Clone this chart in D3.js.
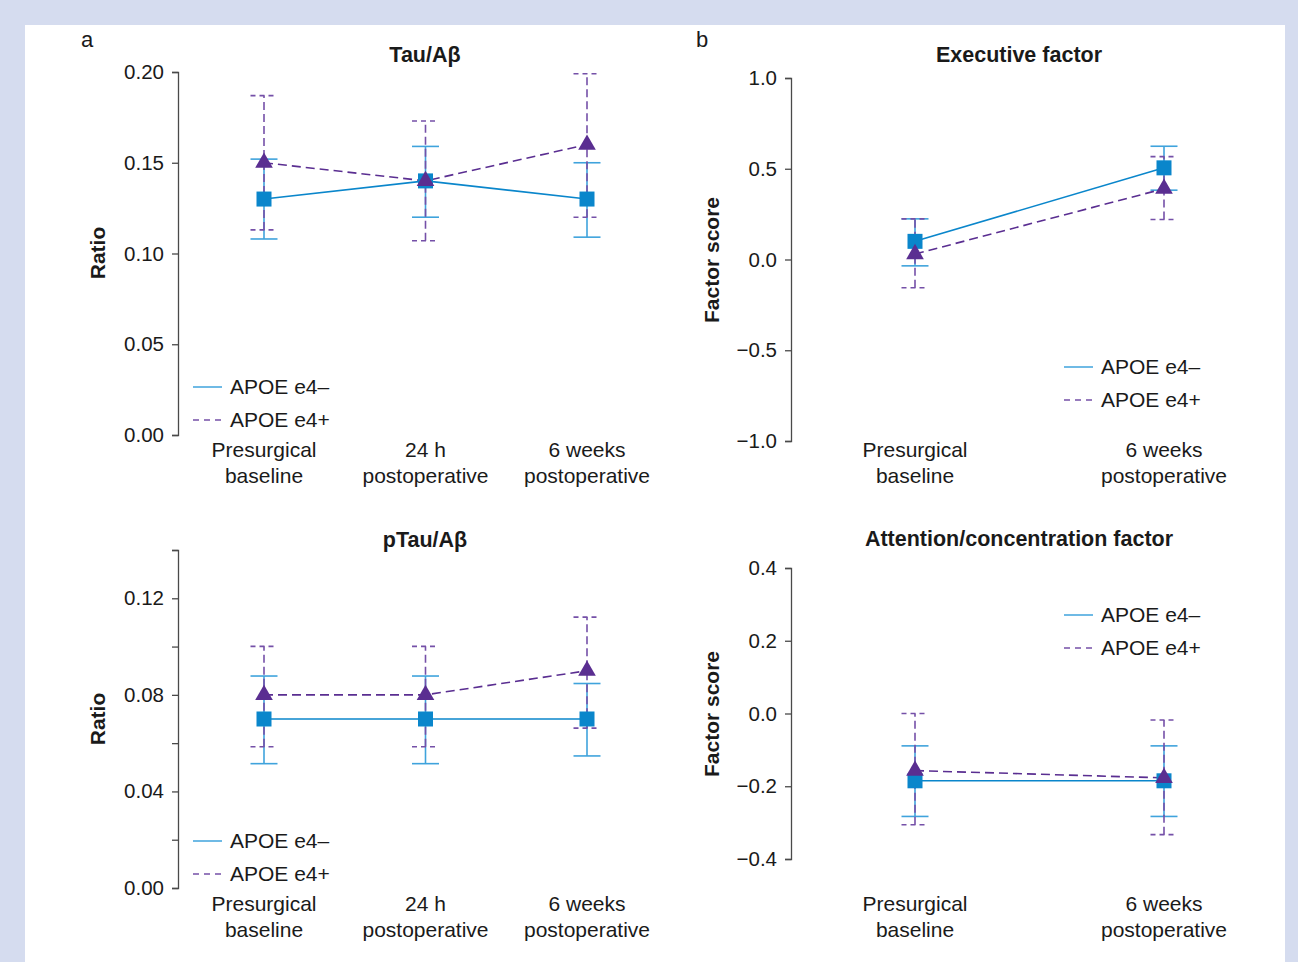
<!DOCTYPE html>
<html>
<head>
<meta charset="utf-8">
<script src="https://cdn.jsdelivr.net/npm/d3@7"></script>
<style>
  body { margin: 0; background: #fff; }
  svg text { font-family: Arial, "Liberation Sans", sans-serif; fill: #1a1a1a; }
</style>
</head>
<body>
<svg id="chart" width="1298" height="962"></svg>
<script>
// Categories (each label is drawn on two lines)
const timesA = [['Presurgical', 'baseline'], ['24 h', 'postoperative'], ['6 weeks', 'postoperative']];
const timesB = [['Presurgical', 'baseline'], ['6 weeks', 'postoperative']];
const seriesNames = ['APOE e4\u2013', 'APOE e4+'];

// Tau/Abeta ratio
const tauNeg = [0.13, 0.14, 0.13];
const tauNegLo = [0.108, 0.120, 0.109];
const tauNegHi = [0.152, 0.159, 0.150];
const tauPos = [0.15, 0.14, 0.16];
const tauPosLo = [0.113, 0.107, 0.120];
const tauPosHi = [0.187, 0.173, 0.199];

// pTau/Abeta ratio
const ptauNeg = [0.07, 0.07, 0.07];
const ptauNegLo = [0.0515, 0.0515, 0.0547];
const ptauNegHi = [0.0878, 0.0878, 0.0847];
const ptauPos = [0.08, 0.08, 0.09];
const ptauPosLo = [0.0585, 0.0585, 0.0662];
const ptauPosHi = [0.1001, 0.1001, 0.1122];

// Executive factor score
const execNeg = [0.10, 0.505];
const execNegLo = [-0.035, 0.382];
const execNegHi = [0.224, 0.624];
const execPos = [0.03, 0.39];
const execPosLo = [-0.156, 0.22];
const execPosHi = [0.224, 0.567];

// Attention/concentration factor score
const attNeg = [-0.185, -0.185];
const attNegLo = [-0.283, -0.283];
const attNegHi = [-0.089, -0.089];
const attPos = [-0.157, -0.177];
const attPosLo = [-0.306, -0.333];
const attPosHi = [0.0, -0.018];

// Axis ticks
const tauTicks = [0, 0.05, 0.10, 0.15, 0.20];
const ptauTicks = [0, 0.02, 0.04, 0.06, 0.08, 0.10, 0.12, 0.14];
const execTicks = [-1, -0.5, 0, 0.5, 1];
const attTicks = [-0.4, -0.2, 0, 0.2, 0.4];

const BLUE = '#0a86cb';
const BLUE_BAR = '#3fa3dc';
const PURPLE = '#5a2e91';
const PURPLE_BAR = '#7550a8';

const svg = d3.select('#chart');

// Framed background
svg.append('rect').attr('width', 1298).attr('height', 962).attr('fill', '#d5dcef');
svg.append('rect').attr('x', 25).attr('y', 25).attr('width', 1260).attr('height', 937).attr('fill', '#fff');

// Panel letters
svg.append('text').attr('x', 81).attr('y', 47).style('font-size', '22px').text('a');
svg.append('text').attr('x', 696).attr('y', 47).style('font-size', '22px').text('b');

const minus = s => s.replace('-', '\u2212');

function drawPanel(p) {
  const g = svg.append('g');

  const y = d3.scaleLinear().domain(p.domain).range([p.yBot, p.yTop]);
  const x = d3.scalePoint().domain(d3.range(p.cats.length)).range(p.xRange);

  // Y axis
  const yAxis = d3.axisLeft(y)
    .tickValues(p.ticks)
    .tickSizeInner(6)
    .tickSizeOuter(6)
    .tickPadding(8)
    .tickFormat(p.format);

  const ax = g.append('g')
    .attr('transform', `translate(${p.axisX},0)`)
    .call(yAxis);
  ax.selectAll('path, line').attr('stroke', '#4a4a4a').attr('stroke-width', 1.3);
  ax.selectAll('text')
    .style('font-size', '20.5px')
    .style('font-family', 'Arial, "Liberation Sans", sans-serif')
    .attr('fill', '#1a1a1a');

  // Title and axis label
  g.append('text')
    .attr('x', p.titleX).attr('y', p.titleY)
    .attr('text-anchor', 'middle')
    .style('font-size', '21.5px').style('font-weight', 'bold')
    .text(p.title);

  g.append('text')
    .attr('transform', `translate(${p.labelX},${p.labelY})rotate(-90)`)
    .attr('text-anchor', 'middle')
    .style('font-size', '21px').style('font-weight', 'bold')
    .text(p.yLabel);

  // Category labels
  p.cats.forEach((lines, i) => {
    lines.forEach((t, j) => {
      g.append('text')
        .attr('x', x(i)).attr('y', p.catY + j * 25.5)
        .attr('text-anchor', 'middle')
        .style('font-size', '21px')
        .text(t);
    });
  });

  const series = [
    { mean: p.neg, lo: p.negLo, hi: p.negHi, color: BLUE, bar: BLUE_BAR, dash: null, capDash: null },
    { mean: p.pos, lo: p.posLo, hi: p.posHi, color: PURPLE, bar: PURPLE_BAR, dash: '9,5', capDash: '5,4' }
  ];

  // Error bars
  series.forEach(s => {
    const eb = g.append('g');
    s.mean.forEach((m, i) => {
      eb.append('line')
        .attr('x1', x(i)).attr('x2', x(i))
        .attr('y1', y(s.lo[i])).attr('y2', y(s.hi[i]))
        .attr('stroke', s.bar).attr('stroke-width', 1.6)
        .attr('stroke-dasharray', s.dash ? '8,4' : null);
      [s.lo[i], s.hi[i]].forEach(v => {
        eb.append('line')
          .attr('x1', x(i) - 13.5).attr('x2', x(i) + 13.5)
          .attr('y1', y(v)).attr('y2', y(v))
          .attr('stroke', s.bar).attr('stroke-width', 1.6)
          .attr('stroke-dasharray', s.capDash);
      });
    });
  });

  // Mean lines
  const line = d3.line().x((d, i) => x(i)).y(d => y(d));
  series.forEach(s => {
    g.append('path')
      .attr('d', line(s.mean))
      .attr('fill', 'none')
      .attr('stroke', s.color)
      .attr('stroke-width', 1.6)
      .attr('stroke-dasharray', s.dash);
  });

  // Markers
  g.selectAll('rect.sq')
    .data(p.neg)
    .enter().append('rect')
      .attr('class', 'sq')
      .attr('x', (d, i) => x(i) - 7.5)
      .attr('y', d => y(d) - 7.5)
      .attr('width', 15).attr('height', 15)
      .attr('fill', BLUE);

  const tri = d3.symbol().type(d3.symbolTriangle).size(135);
  g.selectAll('path.tri')
    .data(p.pos)
    .enter().append('path')
      .attr('class', 'tri')
      .attr('d', tri)
      .attr('transform', (d, i) => `translate(${x(i)},${y(d)})`)
      .attr('fill', PURPLE);

  // Legend
  const lg = g.append('g').attr('transform', `translate(${p.legX},${p.legY})`);
  seriesNames.forEach((name, i) => {
    lg.append('line')
      .attr('x1', 0).attr('x2', 29)
      .attr('y1', i * 33).attr('y2', i * 33)
      .attr('stroke', i === 0 ? BLUE_BAR : PURPLE_BAR)
      .attr('stroke-width', 1.5)
      .attr('stroke-dasharray', i === 0 ? null : '6,5');
    lg.append('text')
      .attr('x', 37).attr('y', i * 33)
      .attr('dy', '0.35em')
      .style('font-size', '21px')
      .text(name);
  });
}

drawPanel({
  title: 'Tau/A\u03b2', yLabel: 'Ratio', cats: timesA,
  domain: [0, 0.20], ticks: tauTicks, format: d3.format('.2f'),
  axisX: 178, yTop: 72, yBot: 435, xRange: [264, 587],
  titleX: 425, titleY: 62, labelX: 105, labelY: 253, catY: 457,
  legX: 193, legY: 387,
  neg: tauNeg, negLo: tauNegLo, negHi: tauNegHi,
  pos: tauPos, posLo: tauPosLo, posHi: tauPosHi
});

drawPanel({
  title: 'pTau/A\u03b2', yLabel: 'Ratio', cats: timesA,
  domain: [0, 0.14], ticks: ptauTicks,
  format: d => (Math.round(d * 100) % 4 === 0 && d < 0.13) ? d3.format('.2f')(d) : '',
  axisX: 178, yTop: 550, yBot: 888, xRange: [264, 587],
  titleX: 425, titleY: 547, labelX: 105, labelY: 719, catY: 911,
  legX: 193, legY: 841,
  neg: ptauNeg, negLo: ptauNegLo, negHi: ptauNegHi,
  pos: ptauPos, posLo: ptauPosLo, posHi: ptauPosHi
});

drawPanel({
  title: 'Executive factor', yLabel: 'Factor score', cats: timesB,
  domain: [-1, 1], ticks: execTicks, format: d => minus(d3.format('.1f')(d)),
  axisX: 791, yTop: 78, yBot: 441, xRange: [915, 1164],
  titleX: 1019, titleY: 62, labelX: 719, labelY: 260, catY: 457,
  legX: 1064, legY: 367,
  neg: execNeg, negLo: execNegLo, negHi: execNegHi,
  pos: execPos, posLo: execPosLo, posHi: execPosHi
});

drawPanel({
  title: 'Attention/concentration factor', yLabel: 'Factor score', cats: timesB,
  domain: [-0.4, 0.4], ticks: attTicks, format: d => minus(d3.format('.1f')(d)),
  axisX: 791, yTop: 568, yBot: 859, xRange: [915, 1164],
  titleX: 1019, titleY: 546, labelX: 719, labelY: 714, catY: 911,
  legX: 1064, legY: 615,
  neg: attNeg, negLo: attNegLo, negHi: attNegHi,
  pos: attPos, posLo: attPosLo, posHi: attPosHi
});
</script>
</body>
</html>
